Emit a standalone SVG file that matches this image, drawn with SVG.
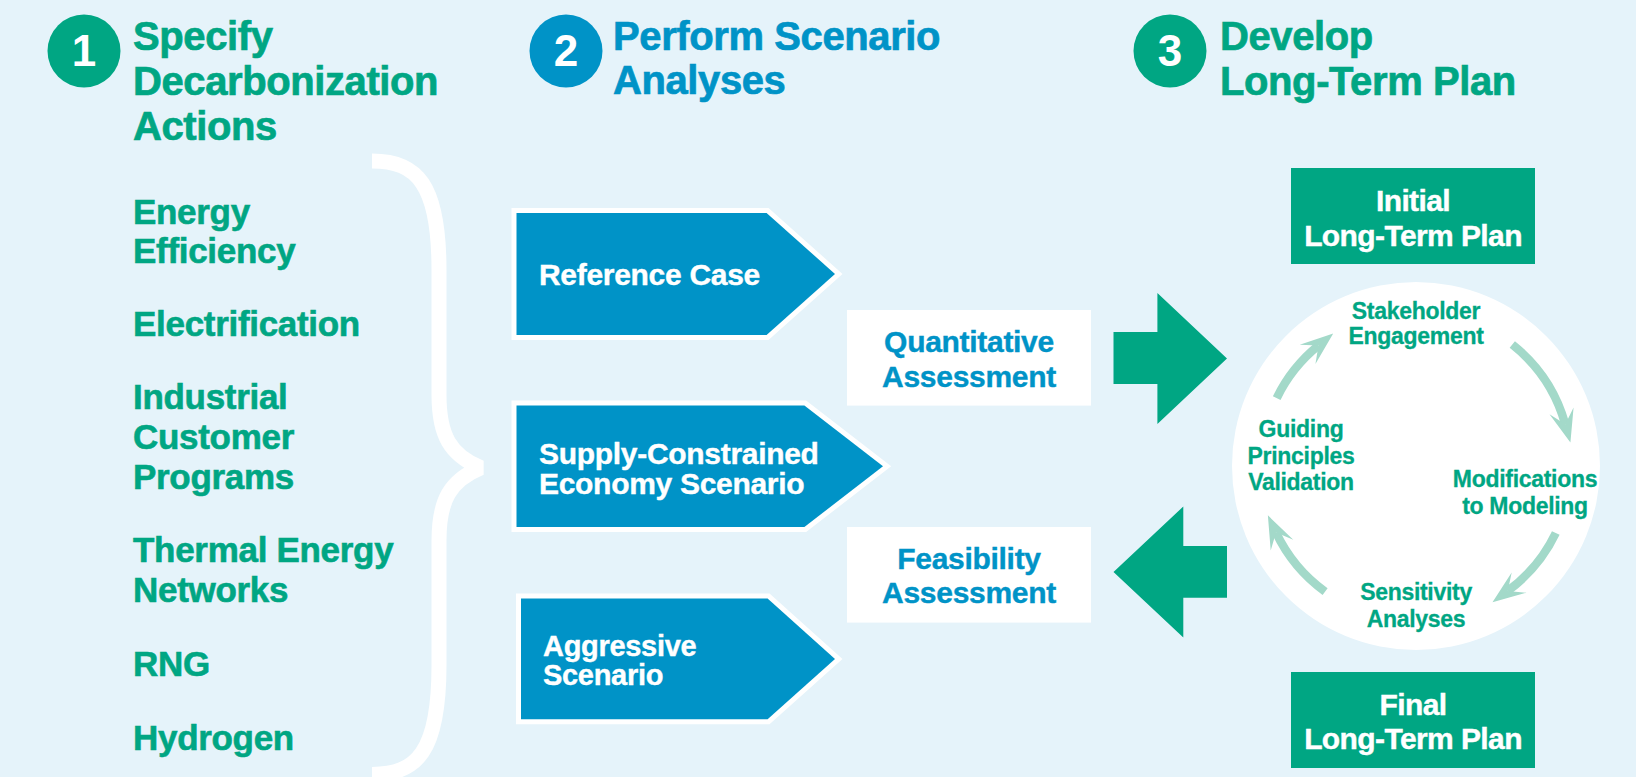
<svg xmlns="http://www.w3.org/2000/svg" width="1636" height="777" viewBox="0 0 1636 777">
<style>
.t{font-family:"Liberation Sans",Arial,Helvetica,sans-serif;font-weight:700}
.h{font-size:40px;stroke-width:0.7px;letter-spacing:-0.4px}
.num{font-size:44px;fill:#fff;text-anchor:middle}
.l{font-size:35px;fill:#00a683;stroke:#00a683;stroke-width:0.6px;letter-spacing:-0.3px}
.s{font-size:30px;stroke-width:0.4px}
.c{font-size:23px;fill:#00a683;stroke:#00a683;stroke-width:0.3px;text-anchor:middle;letter-spacing:-0.3px}
.gr{fill:#00a683}
.bl{fill:#0093c7}
.wh{fill:#fff}
text.gr{stroke:#00a683}
text.bl{stroke:#0093c7}
text.wh{stroke:#fff}
.mid{text-anchor:middle}
.pent{fill:#0093c7;stroke:#fff;stroke-width:10;paint-order:stroke;stroke-linejoin:miter}
.cyc{fill:none;stroke:#a3d9c9;stroke-width:8.5;marker-end:url(#ah)}
</style>
<defs>
<marker id="ah" markerUnits="userSpaceOnUse" orient="auto" markerWidth="40" markerHeight="40" refX="0" refY="0" viewBox="-20 -20 40 40" overflow="visible">
<path d="M19 0 L-14 -12.5 L0 0 L-14 12.5 Z" fill="#a3d9c9"/>
</marker>
</defs>
<rect width="1636" height="777" fill="#e5f3fa"/>

<g id="header1">
<circle cx="84" cy="51" r="36.5" class="gr"/>
<text class="t num" x="84" y="66">1</text>
<text class="t h gr" x="133" y="50">Specify</text>
<text class="t h gr" x="133" y="95">Decarbonization</text>
<text class="t h gr" x="133" y="140">Actions</text>
</g>

<g id="header2">
<circle cx="566" cy="51" r="36.5" class="bl"/>
<text class="t num" x="566" y="66">2</text>
<text class="t h bl" x="613" y="50">Perform Scenario</text>
<text class="t h bl" x="613" y="94">Analyses</text>
</g>

<g id="header3">
<circle cx="1170" cy="51" r="36.5" class="gr"/>
<text class="t num" x="1170" y="66">3</text>
<text class="t h gr" x="1220" y="50">Develop</text>
<text class="t h gr" x="1220" y="95" letter-spacing="-0.9">Long-Term Plan</text>
</g>

<g id="actions">
<text class="t l" x="133" y="224">Energy</text>
<text class="t l" x="133" y="263">Efficiency</text>
<text class="t l" x="133" y="336">Electrification</text>
<text class="t l" x="133" y="409">Industrial</text>
<text class="t l" x="133" y="449">Customer</text>
<text class="t l" x="133" y="489">Programs</text>
<text class="t l" x="133" y="562">Thermal Energy</text>
<text class="t l" x="133" y="602">Networks</text>
<text class="t l" x="133" y="676">RNG</text>
<text class="t l" x="133" y="750">Hydrogen</text>
</g>

<g id="brace">
<path d="M372 161 C417 161 439 184 439 270 L439 395 C439 435 450 455 480.8 467.7 C450 480.4 439 500.4 439 540.4 L439 665.4 C439 751.4 417 774.4 372 774.4" fill="none" stroke="#fff" stroke-width="15" stroke-linejoin="bevel"/>
</g>

<g id="reference-case">
<polygon class="pent" points="516.5,213 766.6,213 835,274 766.6,335 516.5,335"/>
<text class="t s wh" x="539" y="284.5" letter-spacing="-0.3">Reference Case</text>
</g>

<g id="supply-constrained">
<polygon class="pent" points="516.5,405.6 804.4,405.6 883,466.3 804.4,527 516.5,527"/>
<text class="t s wh" x="539" y="463.5" letter-spacing="-0.3">Supply-Constrained</text>
<text class="t s wh" x="539" y="494" letter-spacing="-0.3">Economy Scenario</text>
</g>

<g id="aggressive">
<polygon class="pent" points="521,598.4 767.6,598.4 835,659 767.6,719.3 521,719.3"/>
<text class="t wh" x="543" y="656" font-size="29" stroke-width="0.4" letter-spacing="-0.3">Aggressive</text>
<text class="t wh" x="543" y="685" font-size="29" stroke-width="0.4" letter-spacing="-0.3">Scenario</text>
</g>

<g id="quantitative">
<rect x="847" y="310" width="244" height="95.6" class="wh"/>
<text class="t s bl mid" x="969" y="352" letter-spacing="-0.3">Quantitative</text>
<text class="t s bl mid" x="969" y="387" letter-spacing="-0.3">Assessment</text>
</g>

<g id="feasibility">
<rect x="847" y="527" width="244" height="95.6" class="wh"/>
<text class="t s bl mid" x="969" y="569" letter-spacing="-0.3">Feasibility</text>
<text class="t s bl mid" x="969" y="603" letter-spacing="-0.3">Assessment</text>
</g>

<g id="initial-plan">
<rect x="1291" y="168" width="244" height="96" class="gr"/>
<text class="t s wh mid" x="1413" y="211" letter-spacing="-0.6">Initial</text>
<text class="t s wh mid" x="1413" y="246" letter-spacing="-0.6">Long-Term Plan</text>
</g>

<g id="final-plan">
<rect x="1291" y="672" width="244" height="96" class="gr"/>
<text class="t s wh mid" x="1413" y="715" letter-spacing="-0.6">Final</text>
<text class="t s wh mid" x="1413" y="749" letter-spacing="-0.6">Long-Term Plan</text>
</g>

<g id="cycle">
<circle cx="1416" cy="466" r="184" fill="#fff"/>
<g id="stakeholder"><text class="t c" x="1416" y="319">Stakeholder</text><text class="t c" x="1416" y="344">Engagement</text></g>
<g id="modifications"><text class="t c" x="1525" y="487">Modifications</text><text class="t c" x="1525" y="514">to Modeling</text></g>
<g id="sensitivity"><text class="t c" x="1416" y="600">Sensitivity</text><text class="t c" x="1416" y="626.5">Analyses</text></g>
<g id="guiding"><text class="t c" x="1301" y="437">Guiding</text><text class="t c" x="1301" y="463.5">Principles</text><text class="t c" x="1301" y="490">Validation</text></g>
</g>

<g id="connectors">
<polygon class="gr" points="1113.5,332 1157.4,332 1157.4,293 1227,358.5 1157.4,424 1157.4,384 1113.5,384"/>
<polygon class="gr" points="1227,546 1183.3,546 1183.3,506.5 1113.5,572 1183.3,637.5 1183.3,597.7 1227,597.7"/>
<path class="cyc" d="M1276.7 398.05 A155 155 0 0 1 1318.45 345.55"/>
<path class="cyc" d="M1512.3 344.5 A155 155 0 0 1 1565.3 424.3"/>
<path class="cyc" d="M1555.8 533 A155 155 0 0 1 1507.8 590.9"/>
<path class="cyc" d="M1325.1 591.6 A155 155 0 0 1 1276 532.5"/>
</g>
</svg>
